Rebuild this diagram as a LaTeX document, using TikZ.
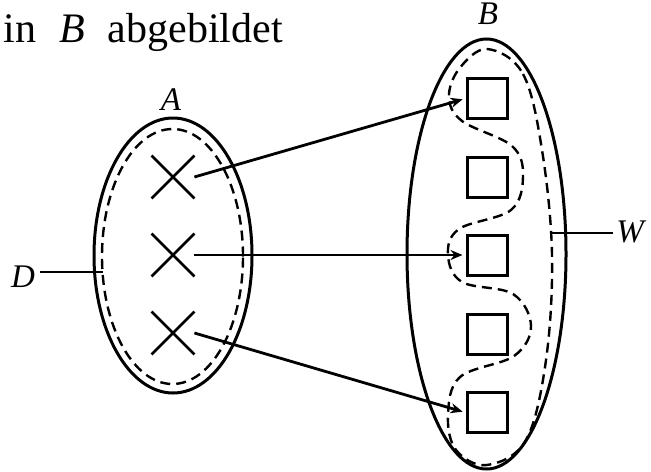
\documentclass[tikz,border=0pt]{standalone}
\usepackage{fontspec}
\setmainfont{Liberation Serif}
\usetikzlibrary{shapes.geometric, shapes.misc, arrows.meta, positioning}
\tikzset{
    setring/.style={draw, ellipse, line width=1.5pt, inner sep=0pt},
    dashring/.style={draw, ellipse, dashed, dash pattern=on 5pt off 3pt, line width=1.2pt, inner sep=0pt},
    elem/.style={draw, cross out, line width=1.4pt, minimum size=20pt, inner sep=0pt},
    img/.style={draw, rectangle, line width=1.5pt, minimum size=20pt, inner sep=0pt},
    maparrow/.style={-{Stealth[length=6pt, width=5pt]}, line width=1.4pt, shorten >=1.5pt},
    setlabel/.style={font=\fontsize{16.5}{18}\selectfont\itshape, inner sep=0pt},
}
\begin{document}
\begin{tikzpicture}[x=0.5pt, y=-0.5pt]
    \useasboundingbox (0,0) rectangle (651,471);

    % Title
    \node[anchor=base west, inner sep=0pt, font=\fontsize{21}{24}\selectfont] (title) at (3,42)
        {in\hspace{0.55em}\textit{B}\hspace{0.55em}abgebildet};

    % Set A with domain D
    \node[setring, minimum width=79pt, minimum height=137.5pt] (ellA) at (173,255.5) {};
    \node[dashring, minimum width=70.5pt, minimum height=127.5pt] (ellD) at (172.5,256.5) {};
    \node[setlabel] (labA) at (171,100) {A};

    % Set B
    \node[setring, minimum width=79.5pt, minimum height=215pt] (ellB) at (486.5,254) {};
    \node[setlabel] (labB) at (488,14) {B};

    % Elements of A
    \foreach \i/\y in {1/177, 2/255, 3/333}
        \node[elem] (x\i) at (173,\y) {};

    % Elements of B
    \foreach \i/\y in {1/98.5, 2/177, 3/255, 4/334, 5/412.5}
        \node[img] (b\i) at (487,\y) {};

    % Image set W (dashed)
    \draw[dashed, dash pattern=on 5pt off 3pt, line width=1.2pt, line cap=butt]
        plot[smooth cycle, tension=0.6] coordinates {
            (487,49) (523,74) (542,150) (552,255) (546,360) (526,440) (487,465)
            (456,450) (448,415) (460,377) (514,356) (531,326) (513,294) (462,282)
            (448,255) (459,229) (511,210) (523,176) (512,146) (462,121) (449,97) (459,69)
        };

    % Mapping arrows
    \draw[maparrow] (x1.east) -- (b1.west);
    \draw[maparrow] (x2.east) -- (b3.west);
    \draw[maparrow] (x3.east) -- (b5.west);

    % Labels D and W
    \node[setlabel] (labD) at (23,277) {D};
    \coordinate (tipD) at (102.5,272);
    \draw[line width=0.9pt] (40,272) -- (tipD);
    \node[setlabel] (labW) at (630,232) {W};
    \coordinate (tipW) at (552,233);
    \draw[line width=0.9pt] (tipW) -- (613,233);
\end{tikzpicture}
\end{document}
